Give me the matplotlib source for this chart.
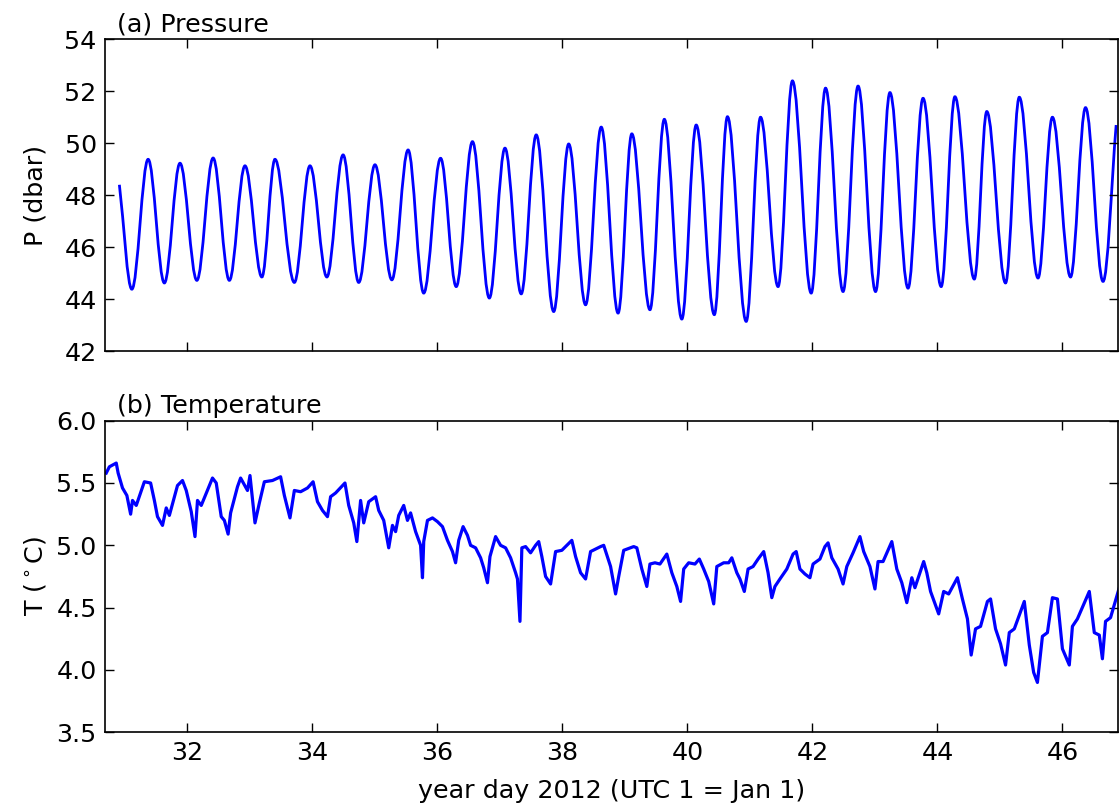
import numpy as np
import matplotlib
matplotlib.use("Agg")
import matplotlib.pyplot as plt
from matplotlib.path import Path
from matplotlib.patches import PathPatch

# pressure extrema (year day, dbar)
p_day = [30.91, 31.11, 31.37, 31.63, 31.88, 32.15, 32.41, 32.67, 32.92, 33.19,
         33.40, 33.71, 33.96, 34.23, 34.49, 34.74, 35.00, 35.27, 35.53, 35.78,
         36.05, 36.30, 36.56, 36.83, 37.08, 37.34, 37.58, 37.86, 38.10, 38.37,
         38.62, 38.89, 39.11, 39.40, 39.63, 39.91, 40.14, 40.43, 40.64, 40.94,
         41.17, 41.45, 41.68, 41.98, 42.21, 42.49, 42.73, 43.01, 43.24, 43.53,
         43.77, 44.06, 44.28, 44.59, 44.79, 45.09, 45.31, 45.61, 45.84, 46.13,
         46.37, 46.65, 46.86]
p_dbar = [48.40, 44.38, 49.38, 44.62, 49.23, 44.72, 49.43, 44.72, 49.13, 44.85,
          49.38, 44.64, 49.13, 44.85, 49.55, 44.64, 49.17, 44.74, 49.74, 44.23,
          49.42, 44.48, 50.06, 44.04, 49.81, 44.20, 50.32, 43.52, 49.97, 43.78,
          50.62, 43.46, 50.36, 43.59, 50.92, 43.23, 50.70, 43.40, 51.02, 43.14,
          51.00, 44.48, 52.40, 44.23, 52.12, 44.29, 52.20, 44.29, 51.95, 44.42,
          51.73, 44.48, 51.79, 44.77, 51.22, 44.62, 51.77, 44.81, 51.00, 44.85,
          51.37, 44.68, 50.70]

# temperature trace (year day, deg C)
t_day = [30.70, 30.75, 30.86, 30.89, 30.96, 31.03, 31.09, 31.12, 31.18, 31.31,
         31.41, 31.47, 31.52, 31.60, 31.66, 31.71, 31.84, 31.92, 31.98, 32.06,
         32.12, 32.16, 32.22, 32.40, 32.46, 32.54, 32.59, 32.65, 32.69, 32.80,
         32.85, 32.96, 33.00, 33.08, 33.15, 33.23, 33.36, 33.49, 33.55, 33.64,
         33.71, 33.81, 33.92, 34.01, 34.08, 34.16, 34.24, 34.29, 34.37, 34.52,
         34.58, 34.66, 34.71, 34.77, 34.82, 34.90, 35.01, 35.06, 35.14, 35.22,
         35.28, 35.33, 35.38, 35.46, 35.52, 35.57, 35.65, 35.73, 35.76, 35.78,
         35.84, 35.92, 36.00, 36.08, 36.16, 36.24, 36.29, 36.34, 36.41, 36.48,
         36.53, 36.61, 36.69, 36.74, 36.80, 36.84, 36.93, 37.01, 37.09, 37.17,
         37.25, 37.28, 37.32, 37.35, 37.41, 37.49, 37.57, 37.62, 37.67, 37.73,
         37.81, 37.89, 37.99, 38.07, 38.15, 38.21, 38.29, 38.37, 38.45, 38.61,
         38.66, 38.77, 38.85, 38.90, 38.98, 39.14, 39.19, 39.27, 39.35, 39.40,
         39.48, 39.56, 39.67, 39.75, 39.83, 39.89, 39.94, 40.02, 40.12, 40.19,
         40.26, 40.34, 40.42, 40.47, 40.58, 40.66, 40.71, 40.79, 40.84, 40.91,
         40.97, 41.05, 41.13, 41.22, 41.29, 41.35, 41.40, 41.48, 41.59, 41.69,
         41.74, 41.80, 41.88, 41.96, 42.01, 42.12, 42.20, 42.25, 42.31, 42.41,
         42.49, 42.55, 42.65, 42.76, 42.82, 42.92, 43.00, 43.05, 43.13, 43.27,
         43.35, 43.43, 43.51, 43.59, 43.64, 43.78, 43.83, 43.89, 44.02, 44.10,
         44.18, 44.32, 44.40, 44.48, 44.54, 44.61, 44.69, 44.80, 44.85, 44.93,
         45.01, 45.09, 45.15, 45.23, 45.39, 45.47, 45.54, 45.60, 45.68, 45.76,
         45.84, 45.92, 46.00, 46.11, 46.16, 46.24, 46.43, 46.51, 46.59, 46.64,
         46.69, 46.77, 46.91]
t_degc = [5.58, 5.63, 5.66, 5.58, 5.46, 5.40, 5.25, 5.36, 5.32, 5.51,
          5.50, 5.36, 5.23, 5.16, 5.30, 5.24, 5.48, 5.52, 5.44, 5.27,
          5.07, 5.36, 5.32, 5.54, 5.50, 5.23, 5.20, 5.09, 5.26, 5.47,
          5.54, 5.44, 5.56, 5.18, 5.34, 5.51, 5.52, 5.55, 5.40, 5.22,
          5.44, 5.43, 5.46, 5.51, 5.35, 5.28, 5.23, 5.39, 5.42, 5.50,
          5.32, 5.18, 5.03, 5.36, 5.18, 5.35, 5.39, 5.28, 5.20, 4.98,
          5.16, 5.11, 5.24, 5.32, 5.20, 5.26, 5.11, 5.00, 4.74, 5.03,
          5.20, 5.22, 5.19, 5.15, 5.04, 4.95, 4.86, 5.04, 5.15, 5.08,
          5.00, 4.98, 4.90, 4.82, 4.70, 4.91, 5.07, 5.00, 4.98, 4.90,
          4.78, 4.73, 4.39, 4.98, 4.99, 4.94, 5.00, 5.03, 4.91, 4.75,
          4.69, 4.95, 4.96, 5.00, 5.04, 4.91, 4.78, 4.73, 4.95, 4.99,
          5.00, 4.83, 4.61, 4.75, 4.96, 4.99, 4.98, 4.81, 4.67, 4.85,
          4.86, 4.85, 4.93, 4.78, 4.67, 4.55, 4.81, 4.86, 4.85, 4.89,
          4.81, 4.71, 4.53, 4.83, 4.86, 4.86, 4.90, 4.78, 4.73, 4.63,
          4.81, 4.83, 4.89, 4.95, 4.78, 4.58, 4.67, 4.73, 4.81, 4.93,
          4.95, 4.81, 4.77, 4.74, 4.85, 4.89, 4.99, 5.02, 4.90, 4.81,
          4.69, 4.83, 4.94, 5.07, 4.95, 4.83, 4.65, 4.87, 4.87, 5.03,
          4.81, 4.70, 4.54, 4.74, 4.66, 4.87, 4.78, 4.63, 4.45, 4.63,
          4.61, 4.74, 4.57, 4.41, 4.12, 4.33, 4.35, 4.55, 4.57, 4.33,
          4.21, 4.04, 4.30, 4.33, 4.55, 4.20, 3.98, 3.90, 4.27, 4.30,
          4.58, 4.57, 4.17, 4.04, 4.35, 4.41, 4.63, 4.30, 4.28, 4.09,
          4.39, 4.42, 4.66]

p_ticks = [42, 44, 46, 48, 50, 52, 54]
t_ticks = [3.5, 4.0, 4.5, 5.0, 5.5, 6.0]
x_ticks = [32, 34, 36, 38, 40, 42, 44, 46]

plt.rcParams['font.family'] = ['DejaVu Sans']
plt.rcParams['font.size'] = 18.3

fig = plt.figure(figsize=(11.2, 8.11), dpi=100)
ax1 = fig.add_axes([0.09375, 0.5672, 0.9045, 0.3843])
ax2 = fig.add_axes([0.09375, 0.0970, 0.9045, 0.3843])

# pressure: smooth bezier curve through the read tidal highs and lows
# (flat tangent at each high/low, like the tide trace)
verts = [(p_day[0], p_dbar[0])]
codes = [Path.MOVETO]
k = 0.36
for i in range(len(p_day) - 1):
    x0, y0 = p_day[i], p_dbar[i]
    x1, y1 = p_day[i + 1], p_dbar[i + 1]
    dx = x1 - x0
    c0 = y0 if i > 0 else y0 + (y1 - y0) * k
    c1 = y1 if i < len(p_day) - 2 else y1 - (y1 - y0) * k
    verts += [(x0 + dx * k, c0), (x1 - dx * k, c1), (x1, y1)]
    codes += [Path.CURVE4] * 3
ax1.add_patch(PathPatch(Path(verts, codes), fill=False, edgecolor='blue',
                        lw=2.0, transform=ax1.transData))

ax2.plot(t_day, t_degc, color='blue', lw=2.3)

for ax in (ax1, ax2):
    ax.set_xlim(30.68, 46.89)
    ax.set_xticks(x_ticks)
    ax.tick_params(direction='in', top=True, right=True, length=6.5, width=1,
                   labelsize=18.3, pad=6)
    for s in ax.spines.values():
        s.set_linewidth(1.2)

ax1.set_ylim(42, 54)
ax1.set_yticks(p_ticks)
ax1.set_xticklabels([])
ax1.set_ylabel('P (dbar)', labelpad=12)
ax1.text(0.012, 1.008, '(a) Pressure', transform=ax1.transAxes,
         ha='left', va='bottom', fontsize=18.3)

ax2.set_ylim(3.5, 6.0)
ax2.set_yticks(t_ticks)
ax2.set_yticklabels(['%.1f' % v for v in t_ticks])
ax2.set_ylabel(r'T ($^\circ$C)', labelpad=6)
ax2.set_xlabel('year day 2012 (UTC 1 = Jan 1)', labelpad=10)
ax2.text(0.012, 1.008, '(b) Temperature', transform=ax2.transAxes,
         ha='left', va='bottom', fontsize=18.3)

fig.savefig('out.png', dpi=100)
